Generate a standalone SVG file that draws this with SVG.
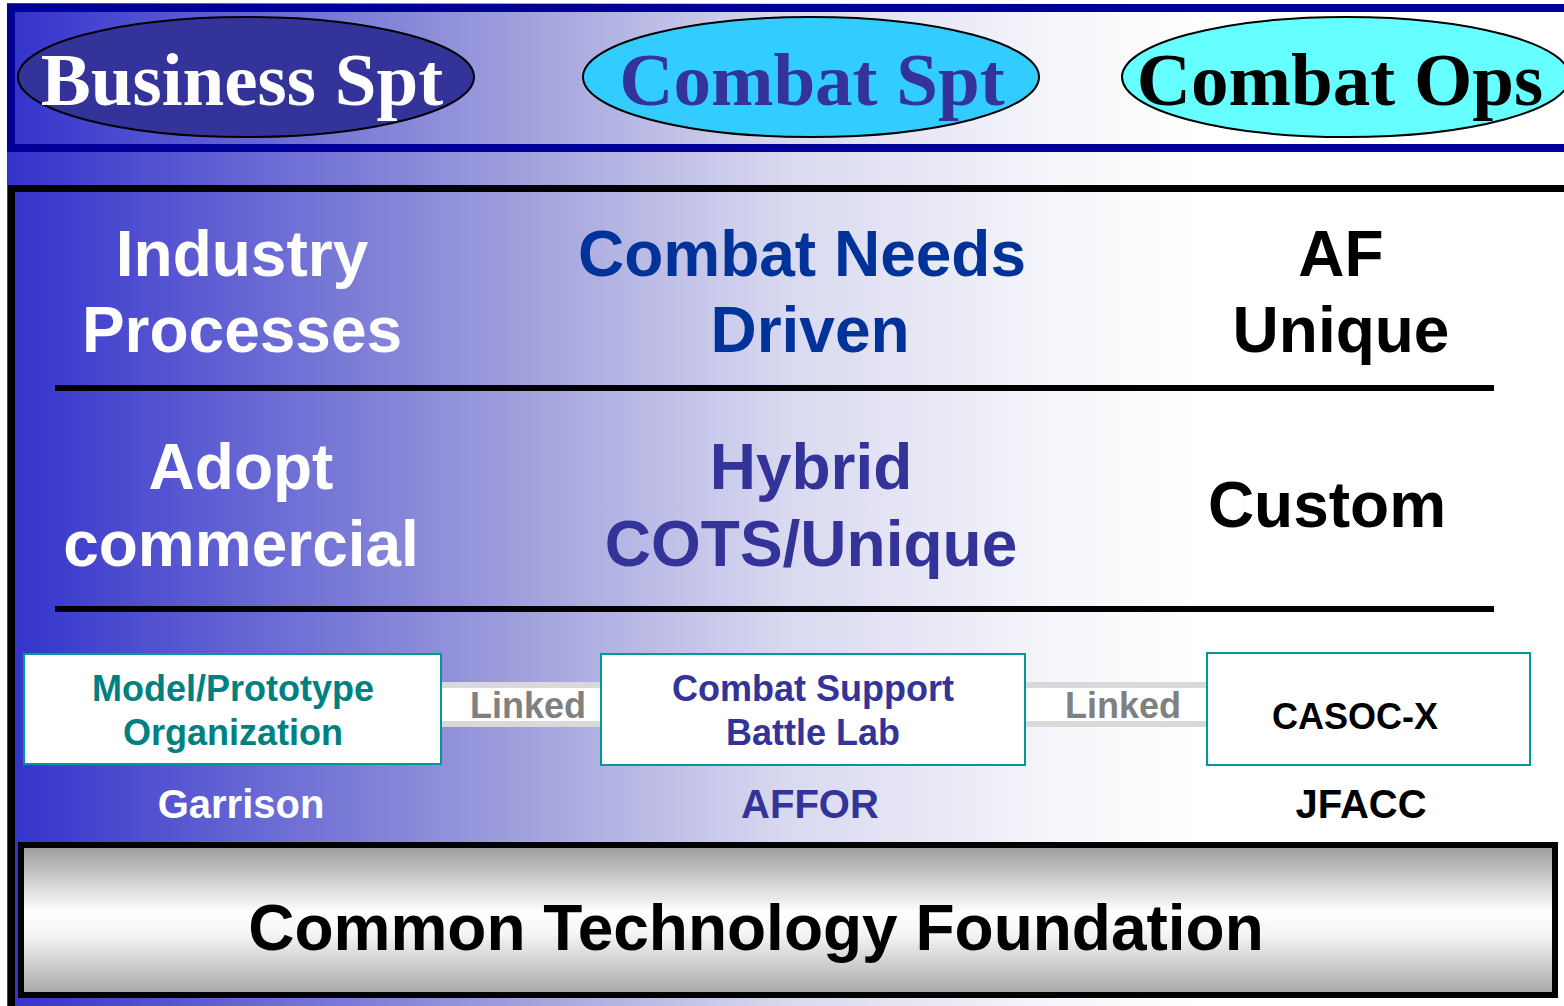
<svg xmlns="http://www.w3.org/2000/svg" width="1564" height="1006" viewBox="0 0 1564 1006">
  <defs>
    <linearGradient id="bg" gradientUnits="userSpaceOnUse" x1="10" y1="0" x2="1200" y2="0">
      <stop offset="0" stop-color="#3333cc"/>
      <stop offset="0.43" stop-color="#a0a0dd"/>
      <stop offset="0.65" stop-color="#d8d8f0"/>
      <stop offset="0.88" stop-color="#f6f6fb"/>
      <stop offset="1" stop-color="#ffffff"/>
    </linearGradient>
    <linearGradient id="ctf" x1="0" y1="0" x2="0" y2="1">
      <stop offset="0" stop-color="#999999"/>
      <stop offset="0.22" stop-color="#cccccc"/>
      <stop offset="0.45" stop-color="#ffffff"/>
      <stop offset="0.6" stop-color="#f4f4f4"/>
      <stop offset="1" stop-color="#a6a6a6"/>
    </linearGradient>
  </defs>
  <style>
    .oval { stroke: #000000; stroke-width: 2; }
    .ttl { font-family: "Liberation Serif", "Times New Roman", serif; font-weight: bold; font-size: 75px; text-anchor: middle; }
    .big { font-family: "Liberation Sans", Arial, sans-serif; font-weight: bold; font-size: 64px; text-anchor: middle; }
    .box { fill: #ffffff; stroke: #009999; stroke-width: 2; }
    .bt { font-family: "Liberation Sans", Arial, sans-serif; font-weight: bold; font-size: 36px; text-anchor: middle; }
    .lbl { font-family: "Liberation Sans", Arial, sans-serif; font-weight: bold; font-size: 40px; text-anchor: middle; }
    .lnk { font-family: "Liberation Sans", Arial, sans-serif; font-weight: bold; font-size: 36px; text-anchor: middle; fill: #808080; }
    .div { stroke: #000000; stroke-width: 6; }
  </style>

  <rect x="0" y="0" width="1564" height="1006" fill="#ffffff"/>
  <rect x="7" y="3" width="1557" height="1003" fill="url(#bg)"/>

  <!-- top band -->
  <g id="top-band">
    <rect x="11" y="8" width="1570" height="140" fill="none" stroke="#000099" stroke-width="8"/>
  </g>

  <g id="business-spt">
    <ellipse cx="246" cy="77" rx="228" ry="60" fill="#333399" class="oval"/>
    <text x="242" y="105" class="ttl" fill="#ffffff">Business Spt</text>
  </g>
  <g id="combat-spt">
    <ellipse cx="811" cy="77" rx="228" ry="60" fill="#33ccff" class="oval"/>
    <text x="812" y="105" class="ttl" fill="#333399">Combat Spt</text>
  </g>
  <g id="combat-ops">
    <ellipse cx="1346" cy="77" rx="224" ry="60" fill="#66ffff" class="oval"/>
    <text x="1340" y="105" class="ttl" fill="#000000">Combat Ops</text>
  </g>

  <!-- main frame -->
  <g id="main-frame">
    <rect x="11.5" y="188.5" width="1570" height="840" fill="none" stroke="#000000" stroke-width="7"/>
    <line x1="55" y1="388" x2="1494" y2="388" class="div"/>
    <line x1="55" y1="609" x2="1494" y2="609" class="div"/>
  </g>

  <g id="row1">
    <text class="big" fill="#ffffff"><tspan x="242" y="276">Industry</tspan><tspan x="242" y="352">Processes</tspan></text>
    <text class="big" fill="#003399"><tspan x="802" y="276">Combat Needs</tspan><tspan x="810" y="352">Driven</tspan></text>
    <text class="big" fill="#000000"><tspan x="1341" y="276">AF</tspan><tspan x="1341" y="352">Unique</tspan></text>
  </g>

  <g id="row2">
    <text class="big" fill="#ffffff"><tspan x="241" y="489">Adopt</tspan><tspan x="241" y="566">commercial</tspan></text>
    <text class="big" fill="#333399"><tspan x="811" y="489">Hybrid</tspan><tspan x="811" y="566">COTS/Unique</tspan></text>
    <text class="big" fill="#000000"><tspan x="1327" y="527">Custom</tspan></text>
  </g>

  <!-- connectors -->
  <g id="connectors">
    <g id="link1">
      <rect x="441" y="682" width="160" height="45" fill="#ffffff"/>
      <rect x="441" y="682" width="160" height="6" fill="#d9d9d9"/>
      <rect x="441" y="721" width="160" height="6" fill="#d9d9d9"/>
      <text x="528" y="718" class="lnk">Linked</text>
    </g>
    <g id="link2">
      <rect x="1025" y="682" width="182" height="45" fill="#ffffff"/>
      <rect x="1025" y="682" width="182" height="6" fill="#d9d9d9"/>
      <rect x="1025" y="721" width="182" height="6" fill="#d9d9d9"/>
      <text x="1123" y="718" class="lnk">Linked</text>
    </g>
  </g>

  <g id="model-prototype">
    <rect x="24" y="654" width="417" height="110" class="box"/>
    <text class="bt" fill="#008080"><tspan x="233" y="701">Model/Prototype</tspan><tspan x="233" y="745">Organization</tspan></text>
    <text x="241" y="818" class="lbl" fill="#ffffff">Garrison</text>
  </g>
  <g id="combat-support-battle-lab">
    <rect x="601" y="654" width="424" height="111" class="box"/>
    <text class="bt" fill="#333399"><tspan x="813" y="701">Combat Support</tspan><tspan x="813" y="745">Battle Lab</tspan></text>
    <text x="810" y="818" class="lbl" fill="#333399">AFFOR</text>
  </g>
  <g id="casoc-x">
    <rect x="1207" y="653" width="323" height="112" class="box"/>
    <text x="1355" y="729" class="bt" fill="#000000">CASOC-X</text>
    <text x="1361" y="818" class="lbl" fill="#000000">JFACC</text>
  </g>

  <g id="common-technology-foundation">
    <rect x="21" y="845" width="1534" height="150" fill="url(#ctf)" stroke="#000000" stroke-width="6"/>
    <text x="756" y="950" class="big" fill="#000000">Common Technology Foundation</text>
  </g>
</svg>
